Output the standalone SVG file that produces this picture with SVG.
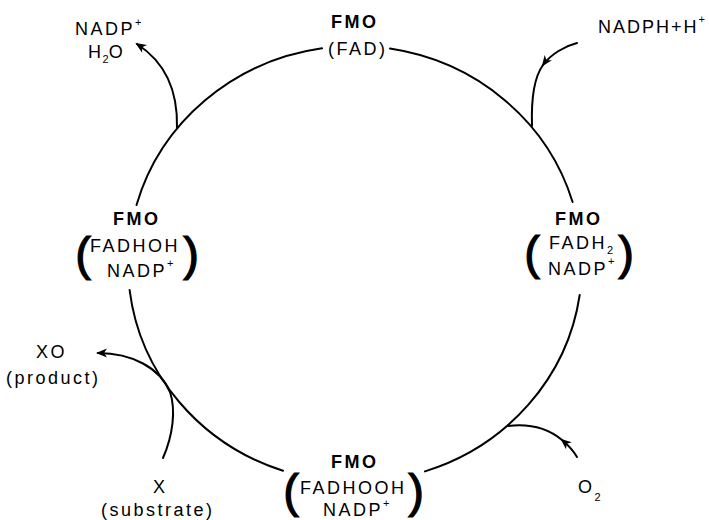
<svg xmlns="http://www.w3.org/2000/svg" width="709" height="520" viewBox="0 0 709 520">
<style>
.t{font-family:"Liberation Sans",Arial,sans-serif;font-size:18px;letter-spacing:2.5px;fill:#000}
.b{font-weight:bold}
.s{font-size:11px;letter-spacing:0}
.p{font-family:"Liberation Sans",Arial,sans-serif;font-size:47px;fill:#000;stroke:#000;stroke-width:1.2;text-anchor:middle}
.ln{fill:none;stroke:#000;stroke-width:2;stroke-linecap:round}
</style>
<defs>
<marker id="ah" markerUnits="userSpaceOnUse" markerWidth="14" markerHeight="12" viewBox="-1 -6 14 12" refX="9" refY="0" orient="auto">
<path d="M0,-4.5 L11,0 L0,4.5 L3,0 Z" fill="#000"/>
</marker>
</defs>
<rect width="709" height="520" fill="#fff"/>
<g id="connectors">
<path class="ln" d="M390,48.6 A227,218 0 0 1 572.6,202"/>
<path class="ln" d="M579.7,295 A227,218 0 0 1 425,471.4"/>
<path class="ln" d="M283,470.8 A227,218 0 0 1 129.6,290"/>
<path class="ln" d="M136.5,205 A227,218 0 0 1 322,48.3"/>
<path class="ln" d="M577,43 C565,46 551,54 543,65" marker-end="url(#ah)"/>
<path class="ln" d="M543,65 C535,76 531,95 532,126"/>
<path class="ln" d="M177,128 C178,90 165,62 137,44" marker-end="url(#ah)"/>
<path class="ln" d="M163,458 C173,435 176,410 170,392 C160,368 132,353 98,353" marker-end="url(#ah)"/>
<path class="ln" d="M577,457 C573,450 568,445 562,440" marker-end="url(#ah)"/>
<path class="ln" d="M562,440 C545,426 525,424 508,426"/>
</g>
<g id="node-fad">
<text class="t b" x="331" y="28">FMO</text>
<text class="t" x="328" y="55">(FAD)</text>
</g>
<g id="node-fadh2">
<text class="t b" x="555" y="225">FMO</text>
<text class="t" x="549" y="249">FADH<tspan class="s" dy="5">2</tspan></text>
<text class="t" x="548" y="275">NADP<tspan class="s" dy="-10">+</tspan></text>
<text class="p" x="532" y="269">(</text>
<text class="p" x="626" y="269">)</text>
</g>
<g id="node-fadhooh">
<text class="t b" x="331" y="468">FMO</text>
<text class="t" x="300" y="494">FADHOOH</text>
<text class="t" x="323" y="516">NADP<tspan class="s" dy="-9">+</tspan></text>
<text class="p" x="291" y="507">(</text>
<text class="p" x="416" y="507">)</text>
</g>
<g id="node-fadhoh">
<text class="t b" x="113" y="225">FMO</text>
<text class="t" x="90" y="252">FADHOH</text>
<text class="t" x="107" y="277">NADP<tspan class="s" dy="-10">+</tspan></text>
<text class="p" x="83" y="270">(</text>
<text class="p" x="191" y="270">)</text>
</g>
<g id="label-nadph">
<text class="t" x="598" y="33" style="letter-spacing:2px">NADPH+H<tspan class="s" dy="-10">+</tspan></text>
</g>
<g id="label-nadp-h2o">
<text class="t" x="75" y="35">NADP<tspan class="s" dy="-9">+</tspan></text>
<text class="t" x="88" y="58" style="letter-spacing:1.5px">H<tspan class="s" dy="5">2</tspan><tspan dy="-5">O</tspan></text>
</g>
<g id="label-o2">
<text class="t" x="578" y="493">O<tspan class="s" dy="8">2</tspan></text>
</g>
<g id="label-xo">
<text class="t" x="36" y="358">XO</text>
<text class="t" x="6" y="384">(product)</text>
</g>
<g id="label-x">
<text class="t" x="153" y="493">X</text>
<text class="t" x="101" y="516">(substrate)</text>
</g>
</svg>
